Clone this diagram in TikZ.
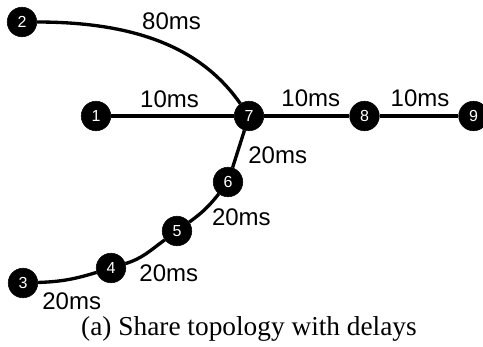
\documentclass[tikz,border=0pt]{standalone}
\usepackage{fontspec}
\setmainfont{Liberation Serif}
\setsansfont{Liberation Sans}
\usetikzlibrary{positioning}

\begin{document}
\begin{tikzpicture}[x=0.75pt, y=-0.75pt,
    host/.style={circle, fill=black, draw=black, minimum size=22.2pt, inner sep=0pt, text=white, font=\sffamily\fontsize{12}{13}\selectfont},
    link/.style={line width=2.5pt},
    delay/.style={font=\sffamily\fontsize{18}{20}\selectfont, inner sep=0pt}]
\useasboundingbox (0,0) rectangle (483,347);
% Nodos de la topologia
\node (n2) [host] at (22, 22) {2};
\node (n1) [host] at (96, 116) {1};
\node (n7) [host] at (249, 116) {7};
\node (n8) [host] at (364.5, 116) {8};
\node (n9) [host] at (473.5, 116) {9};
\node (n6) [host] at (228, 182) {6};
\node (n5) [host] at (177, 231) {5};
\node (n4) [host] at (111, 268) {4};
\node (n3) [host] at (23, 283) {3};

% Enlaces con sus retardos
\draw [link] (n2) to[out=0, in=125, out distance=82.5pt, in distance=45pt]
    node[delay, xshift=3.4pt, yshift=17.3pt] {80ms} (n7);
\draw [link] (n1) -- node[delay, xshift=-2.2pt, yshift=12.7pt] {10ms} (n7);
\draw [link] (n7) -- node[delay, xshift=3pt, yshift=13.3pt] {10ms} (n8);
\draw [link] (n8) -- node[delay, xshift=0.8pt, yshift=13.3pt] {10ms} (n9);
\draw [link] (n6) -- node[delay, xshift=29.4pt, yshift=-4.7pt] {20ms} (n7);
\draw [link] (n5) to[out=36, in=232] node[delay, xshift=27.2pt, yshift=-6.1pt] {20ms} (n6);
\draw [link] (n4) to[out=17, in=216] node[delay, xshift=17pt, yshift=-14.8pt] {20ms} (n5);
\draw [link] (n3) to[out=2, in=197] node[delay, xshift=3pt, yshift=-16pt] {20ms} (n4);

% Leyenda
\node (caption) [font=\fontsize{20.5}{22}\selectfont] at (249, 328.5) {(a) Share topology with delays};
\end{tikzpicture}
\end{document}
